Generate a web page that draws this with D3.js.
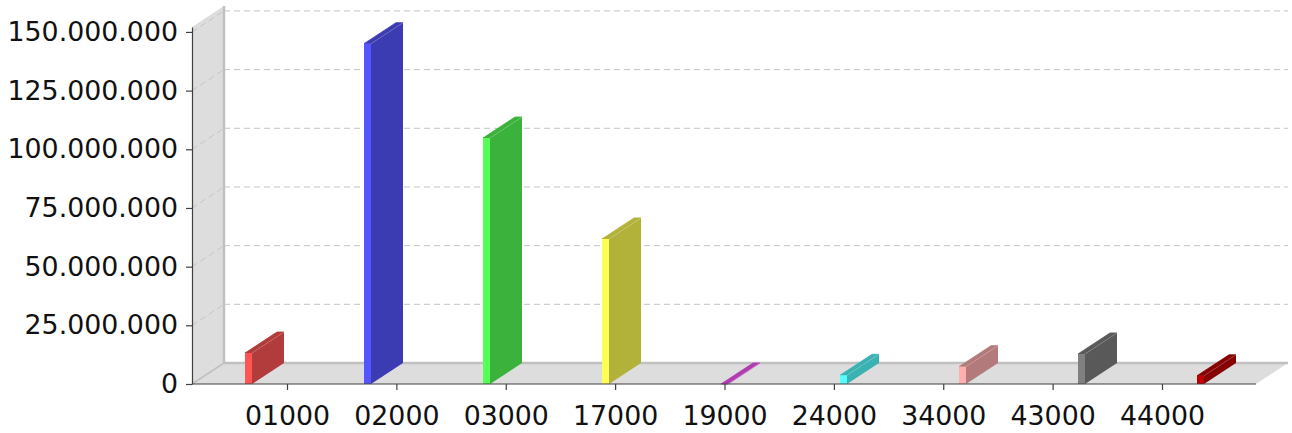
<!DOCTYPE html>
<html>
<head>
<meta charset="utf-8">
<script src="https://cdn.jsdelivr.net/npm/d3@7"></script>
<style>
  body { margin: 0; background: #fff; }
  svg text { font-family: "DejaVu Sans", sans-serif; fill: #111; }
</style>
</head>
<body>
<div id="chart"></div>
<script>
// data
var categories = ['01000','02000','03000','17000','19000','24000','34000','43000','44000']
var values = [13200000, 145000000, 104800000, 61800000, 0, 3700000, 7400000, 12800000, 3500000]
var y_ticks = [0, 25000000, 50000000, 75000000, 100000000, 125000000, 150000000]
var front_colors = ['#ff5555','#5555ff','#55ff55','#ffff55','#ff55ff','#55ffff','#ffafaf','#808080','#c00000']

const W = 1292, H = 433
const dx = 32, dy = 21
const p_left = 192, p_right = 1256, p_top = 27, p_bottom = 384
const bar_w = 7

function darker(c){
    var r = d3.rgb(c)
    return d3.rgb(Math.floor(r.r*0.7), Math.floor(r.g*0.7), Math.floor(r.b*0.7)).toString()
}

var svg = d3.select('#chart')
    .append('svg')
    .attr('width', W)
    .attr('height', H)

var y = d3.scaleLinear()
    .domain([0, 152100000])
    .range([p_bottom, p_top])

// bars sit on their own spacing, ticks on the axis spacing
var x_bar = d3.scalePoint()
    .domain(categories)
    .range([245, 1197])

var x_tick = d3.scalePoint()
    .domain(categories)
    .range([287, 1162])

// walls
svg.append('polygon')
    .attr('points', [[p_left,p_top],[p_left+dx,p_top-dy],[p_left+dx,p_bottom-dy],[p_left,p_bottom]].join(' '))
    .attr('fill', '#dddddd')

svg.append('polygon')
    .attr('points', [[p_left,p_bottom],[p_left+dx,p_bottom-dy],[p_right+dx,p_bottom-dy],[p_right,p_bottom]].join(' '))
    .attr('fill', '#dddddd')

// wall edges
svg.append('line')
    .attr('x1', p_left+dx).attr('y1', p_top-dy)
    .attr('x2', p_left+dx).attr('y2', p_bottom-dy)
    .attr('stroke', '#c0c0c0').attr('stroke-width', 2.5)

svg.append('line')
    .attr('x1', p_left+dx).attr('y1', p_bottom-dy)
    .attr('x2', p_right+dx).attr('y2', p_bottom-dy)
    .attr('stroke', '#c0c0c0').attr('stroke-width', 2.5)

svg.append('line')
    .attr('x1', p_left).attr('y1', p_bottom)
    .attr('x2', p_left+dx).attr('y2', p_bottom-dy)
    .attr('stroke', '#c0c0c0').attr('stroke-width', 1.5)

// gridlines, back plane and left wall
var grid = svg.append('g')
    .attr('stroke', '#c4c4c4')
    .attr('stroke-width', 1)
    .attr('stroke-dasharray', '6,4')
    .attr('fill', 'none')

grid.selectAll('.gback')
    .data(y_ticks.filter(d => d > 0))
    .enter()
    .append('line')
    .attr('x1', p_left+dx)
    .attr('x2', p_right+dx)
    .attr('y1', d => y(d)-dy)
    .attr('y2', d => y(d)-dy)

grid.selectAll('.gwall')
    .data(y_ticks.filter(d => d > 0))
    .enter()
    .append('line')
    .attr('x1', p_left)
    .attr('x2', p_left+dx)
    .attr('y1', d => y(d))
    .attr('y2', d => y(d)-dy)

// bars
var bar_g = svg.selectAll('.bar')
    .data(categories.map(function(c,i){ return {cat: c, value: values[i], color: front_colors[i]} }))
    .enter()
    .append('g')

bar_g.append('polygon')   // side
    .attr('points', function(d){
        var x1 = x_bar(d.cat) + bar_w, yt = y(d.value)
        return [[x1,yt],[x1+dx,yt-dy],[x1+dx,p_bottom-dy],[x1,p_bottom]].join(' ')
    })
    .attr('fill', d => darker(d.color))

bar_g.append('polygon')   // top
    .attr('points', function(d){
        var x0 = x_bar(d.cat), x1 = x0 + bar_w, yt = y(d.value)
        return [[x0,yt],[x0+dx,yt-dy],[x1+dx,yt-dy],[x1,yt]].join(' ')
    })
    .attr('fill', d => darker(d.color))
    .attr('stroke', d => darker(d.color))
    .attr('stroke-width', 0.8)

bar_g.append('line')   // seam between top and side
    .attr('x1', d => x_bar(d.cat) + bar_w)
    .attr('y1', d => y(d.value))
    .attr('x2', d => x_bar(d.cat) + bar_w + dx)
    .attr('y2', d => y(d.value) - dy)
    .attr('stroke', 'rgba(255,255,255,0.25)')
    .attr('stroke-width', 0.8)

bar_g.append('rect')   // front
    .attr('x', d => x_bar(d.cat))
    .attr('y', d => y(d.value))
    .attr('width', bar_w)
    .attr('height', d => p_bottom - y(d.value))
    .attr('fill', d => d.color)

// axes
var fmt = d3.formatLocale({decimal: ',', thousands: '.', grouping: [3]}).format(',d')

var y_axis = d3.axisLeft(y)
    .tickValues(y_ticks)
    .tickFormat(fmt)
    .tickSizeInner(6)
    .tickSizeOuter(0)
    .tickPadding(8)

var yg = svg.append('g')
    .attr('transform', 'translate(' + p_left + ',0)')
    .call(y_axis)

var x_axis = d3.axisBottom(x_tick)
    .tickSizeInner(6)
    .tickSizeOuter(0)
    .tickPadding(16)

var xg = svg.append('g')
    .attr('transform', 'translate(0,' + p_bottom + ')')
    .call(x_axis)

xg.select('.domain').attr('d', 'M' + p_left + ',0H' + p_right)

svg.selectAll('.domain, .tick line').attr('stroke', '#404040').attr('stroke-width', 1.2)
svg.selectAll('.tick text')
    .style('font-size', '26.8px')
    .style('font-family', '"DejaVu Sans", sans-serif')
    .attr('fill', '#111')
</script>
</body>
</html>
